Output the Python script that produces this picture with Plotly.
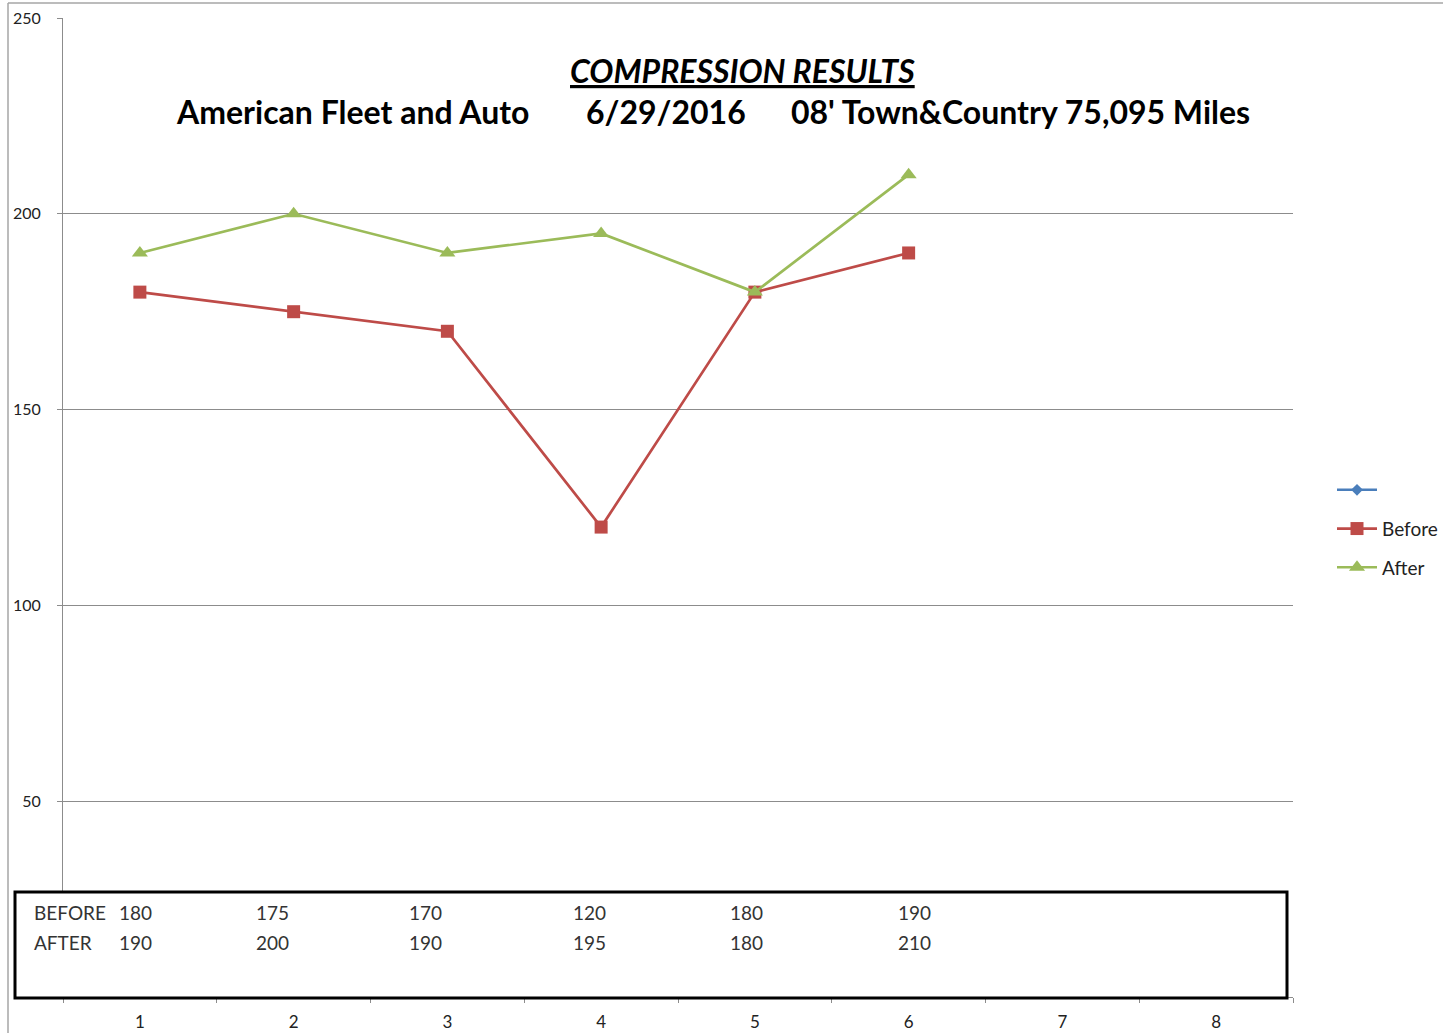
import plotly.graph_objects as go

# ---- data ----
cylinders = ['1', '2', '3', '4', '5', '6', '7', '8']
before = [180, 175, 170, 120, 180, 190]
after = [190, 200, 190, 195, 180, 210]
y_ticks = [50, 100, 150, 200, 250]
title_main = "COMPRESSION RESULTS"
title_parts = ["American Fleet and Auto", "6/29/2016", "08' Town&Country 75,095 Miles"]

# ---- layout constants ----
W, H = 1443, 1033
L, R, T, B = 63, 150, 18, 36
PW, PH = W - L - R, H - T - B
FONT = "Lato"
C_BLUE, C_RED, C_GREEN = "#4A7EBB", "#BE4B48", "#9BBB59"
GRID = "#8C8C8C"


def px(x):
    return (x - L) / PW


def py(y):
    return (H - B - y) / PH


fig = go.Figure()
fig.add_trace(go.Scatter(x=[cylinders[0]], y=[None], name=" ", mode="lines+markers",
                         line=dict(color=C_BLUE, width=2.5),
                         marker=dict(symbol="diamond", size=9, color=C_BLUE),
                         legendgroup="a"))
fig.add_trace(go.Scatter(x=cylinders[:len(before)], y=before, name="Before", mode="lines+markers",
                         line=dict(color=C_RED, width=2.7),
                         marker=dict(symbol="square", size=13, color=C_RED),
                         legendgroup="b"))
fig.add_trace(go.Scatter(x=cylinders[:len(after)], y=after, name="After", mode="lines+markers",
                         line=dict(color=C_GREEN, width=2.7),
                         marker=dict(symbol="triangle-up", size=14, color=C_GREEN),
                         legendgroup="c"))

annotations = []
annotations.append(dict(text="<b><i><u>%s</u></i></b>" % title_main, x=px(742), y=py(71),
                        xref="paper", yref="paper", xanchor="center", yanchor="middle",
                        showarrow=False, font=dict(family=FONT, size=32, color="#000")))
for t, cx in zip(title_parts, [352, 666, 1020]):
    annotations.append(dict(text="<b>%s</b>" % t, x=px(cx), y=py(112),
                            xref="paper", yref="paper", xanchor="center", yanchor="middle",
                            showarrow=False, font=dict(family=FONT, size=32, color="#000")))

# data table inside box
table_cols = [135, 272, 425, 589, 746, 915]
for label, vals, yy in [("BEFORE", before, 912), ("AFTER", after, 942)]:
    annotations.append(dict(text=label, x=px(32), y=py(yy), xref="paper", yref="paper",
                            xanchor="left", yanchor="middle", showarrow=False,
                            font=dict(family=FONT, size=19, color="#333")))
    for v, cx in zip(vals, table_cols):
        annotations.append(dict(text=str(v), x=px(cx), y=py(yy), xref="paper", yref="paper",
                                xanchor="center", yanchor="middle", showarrow=False,
                                font=dict(family=FONT, size=19, color="#333")))

shapes = [
    # outer chart border
    dict(type="line", xref="paper", yref="paper", x0=px(8), x1=px(8), y0=py(3), y1=py(1040),
         line=dict(color="#A6A6A6", width=1.5)),
    dict(type="line", xref="paper", yref="paper", x0=px(8), x1=px(1450), y0=py(3), y1=py(3),
         line=dict(color="#A6A6A6", width=1.5)),
    # table box
    dict(type="rect", xref="paper", yref="paper", x0=px(15), x1=px(1287), y0=py(998), y1=py(892),
         line=dict(color="#000", width=3), fillcolor="#fff", layer="above"),
]

fig.update_layout(
    width=W, height=H,
    margin=dict(l=L, r=R, t=T, b=B, pad=0, autoexpand=False),
    paper_bgcolor="#fff", plot_bgcolor="#fff",
    font=dict(family=FONT, color="#222"),
    showlegend=True,
    legend=dict(x=px(1332), y=py(529), xanchor="left", yanchor="middle",
                font=dict(family=FONT, size=19, color="#222"), itemwidth=40,
                traceorder="grouped", tracegroupgap=11, bgcolor="rgba(0,0,0,0)"),
    annotations=annotations,
    shapes=shapes,
    xaxis=dict(type="category", categoryorder="array", categoryarray=cylinders,
               range=[-0.5, len(cylinders) - 0.5], tickson="boundaries", automargin=False,
               showline=True, linecolor=GRID, linewidth=1, showgrid=False,
               ticks="outside", ticklen=5, tickcolor=GRID, ticklabelstandoff=10,
               tickfont=dict(family=FONT, size=17, color="#222"), zeroline=False),
    yaxis=dict(range=[0, 250], tickvals=y_ticks, showline=True, linecolor=GRID, linewidth=1,
               automargin=False,
               showgrid=True, gridcolor=GRID, gridwidth=1, zeroline=False,
               ticks="outside", ticklen=5, tickcolor=GRID, ticklabelstandoff=13,
               tickfont=dict(family=FONT, size=16, color="#222")),
)

fig.write_html(
    "out.html",
    config={"displayModeBar": False},
    post_script=("document.documentElement.style.margin='0';"
                 "document.documentElement.style.overflow='hidden';"
                 "document.body.style.margin='0';"
                 "document.body.style.overflow='hidden';"),
)
